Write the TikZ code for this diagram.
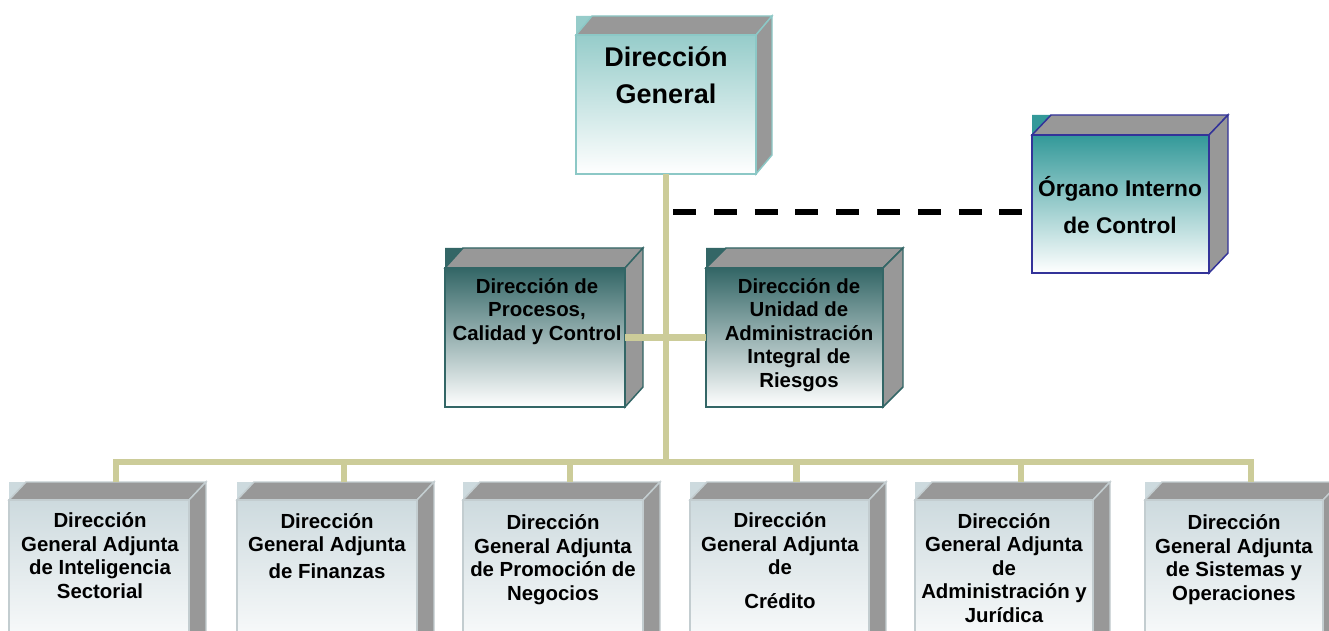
\documentclass[tikz,border=0pt]{standalone}
\usepackage{fontspec}
\setmainfont{Liberation Sans}
\usetikzlibrary{fit}

\definecolor{conn}{RGB}{204,204,153}
\definecolor{faceGray}{RGB}{152,152,152}
\definecolor{dgTop}{RGB}{150,204,202}
\definecolor{dgBorder}{RGB}{140,200,198}
\definecolor{oicTop}{RGB}{51,153,153}
\definecolor{oicBorder}{RGB}{51,51,153}
\definecolor{midTop}{RGB}{51,102,102}
\definecolor{midBorder}{RGB}{51,102,102}
\definecolor{botTop}{RGB}{205,218,222}
\definecolor{botBorder}{RGB}{195,205,208}

% #1 name, #2 x1, #3 y1, #4 x2, #5 y2, #6 dx, #7 dy, #8 gradient colour, #9 border colour
\newcommand\cubebox[9]{%
  \coordinate (#1-a) at (#2,#3);
  \coordinate (#1-b) at (#4,#5);
  \coordinate (#1-top) at ({(#2+#4)/2+#6},{#3-#7});
  \fill[#8] (#2,#3) -- (#2,{#3-#7}) -- ({#2+#6},{#3-#7}) -- cycle;
  \shade[top color=#8, bottom color=white] (#2,#3) rectangle (#4,#5);
  \filldraw[fill=faceGray, draw=#9, boxline] (#2,#3) -- ({#2+#6},{#3-#7}) -- ({#4+#6},{#3-#7}) -- (#4,#3) -- cycle;
  \filldraw[fill=faceGray, draw=#9, boxline] (#4,#3) -- ({#4+#6},{#3-#7}) -- ({#4+#6},{#5-#7}) -- (#4,#5) -- cycle;
  \draw[#9, boxline] (#2,#3) rectangle (#4,#5);
  \node[fit=(#1-a)(#1-b), inner sep=0pt, outer sep=0pt] (#1) {};
}

\tikzset{
  boxline/.style={line width=1.1pt, line join=miter},
  connector/.style={draw=conn, line width=5.2pt},
  dashline/.style={draw=black, line width=5pt, dash pattern=on 17.2pt off 13.4pt},
  dgtext/.style={font=\fontsize{20.25pt}{27.75pt}\selectfont\bfseries, align=center, inner sep=0pt, anchor=base},
  oictext/.style={font=\fontsize{17pt}{27.5pt}\selectfont\bfseries, align=center, inner sep=0pt, anchor=base},
  smalltext/.style={font=\fontsize{15.3pt}{17.6pt}\selectfont\bfseries, align=center, inner sep=0pt, anchor=base},
}

\begin{document}
\begin{tikzpicture}[x=0.75pt, y=-0.75pt]
\useasboundingbox (0,0) rectangle (1329,631);
\clip (0,0) rectangle (1329,631);
\fill[white] (0,0) rectangle (1329,631);

% boxes
\cubebox{dg}{576}{35}{756}{174}{16}{19}{dgTop}{dgBorder}
\cubebox{oic}{1032}{135}{1209}{273}{19}{20}{oicTop}{oicBorder}
\cubebox{dp}{445}{268}{625}{407}{18}{20}{midTop}{midBorder}
\cubebox{du}{706}{268}{883}{407}{20}{20}{midTop}{midBorder}
\cubebox{b1}{9}{500}{189}{660}{17}{18}{botTop}{botBorder}
\cubebox{b2}{237}{500}{417}{660}{17}{18}{botTop}{botBorder}
\cubebox{b3}{463}{500}{643}{660}{17}{18}{botTop}{botBorder}
\cubebox{b4}{690}{500}{869}{660}{17}{18}{botTop}{botBorder}
\cubebox{b5}{915}{500}{1093}{660}{17}{18}{botTop}{botBorder}
\cubebox{b6}{1145}{500}{1323}{660}{17}{18}{botTop}{botBorder}

% connectors
\coordinate (bus) at (665,462);
\coordinate (dashstart) at (673,212);
\draw[connector] (dg.south) -- (dg.south |- bus);
\draw[connector] (dp.east) -- (du.west);
\draw[connector, line join=miter] (b1-top) -- (b1-top |- bus) -- (b6-top |- bus) -- (b6-top);
\foreach \b in {b2,b3,b4,b5}{
  \draw[connector] (\b-top |- bus) -- (\b-top);
}
\draw[dashline] (dashstart) -- (oic.west |- dashstart);

% texts (anchored at the baseline of their last line)
\node[dgtext] (dg-t) at (666,104) {Dirección\\General};
\node[oictext] (oic-t) at (1120,233.3) {Órgano Interno\\de Control};
\node[smalltext] (dp-t) at (537,340) {Dirección de\\Procesos,\\Calidad y Control};
\node[smalltext] (du-t) at (799,387) {Dirección de\\Unidad de\\Administración\\Integral de\\Riesgos};
\node[smalltext] (b1-t) at (100,598) {Dirección\\General Adjunta\\de Inteligencia\\Sectorial};
\node[smalltext] (b2-t) at (327,578) {Dirección\\General Adjunta\\[2pt]de Finanzas};
\node[smalltext] (b3-t) at (553,600) {Dirección\\General Adjunta\\de Promoción de\\Negocios};
\node[smalltext] (b4-t) at (780,608) {Dirección\\General Adjunta\\de\\[7.5pt]Crédito};
\node[smalltext] (b5-t) at (1004,622) {Dirección\\General Adjunta\\de\\Administración y\\Jurídica};
\node[smalltext] (b6-t) at (1234,600) {Dirección\\General Adjunta\\de Sistemas y\\Operaciones};
\end{tikzpicture}
\end{document}
